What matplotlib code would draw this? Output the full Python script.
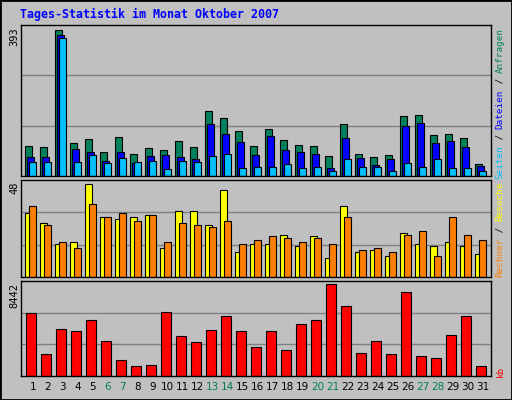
import numpy as np
import matplotlib.pyplot as plt
from matplotlib.patches import Rectangle

# Tagesdaten Oktober 2007 (aus dem Bild geschaetzt)
days = np.arange(1, 32)
weekend = [6, 7, 13, 14, 20, 21, 27, 28]
hits = [80, 78, 393, 88, 99, 64, 104, 59, 75, 70, 94, 78, 174, 155, 121, 80,
        126, 96, 83, 80, 54, 139, 59, 51, 56, 161, 163, 110, 113, 102, 32]
files = [51, 51, 378, 72, 64, 40, 64, 35, 54, 56, 51, 46, 139, 113, 91, 56,
         107, 70, 64, 59, 21, 102, 48, 29, 46, 134, 142, 88, 94, 78, 27]
pages = [38, 38, 370, 38, 56, 35, 48, 38, 40, 19, 40, 38, 54, 59, 21, 24,
         24, 32, 21, 24, 13, 46, 24, 24, 13, 35, 24, 46, 21, 21, 13]
visits = [33, 28, 17, 18, 48, 31, 30, 31, 32, 15, 34, 34, 27, 45, 13, 17,
          17, 22, 16, 21, 10, 37, 13, 14, 11, 23, 17, 16, 18, 16, 12]
sites = [37, 27, 18, 15, 38, 31, 33, 29, 32, 18, 28, 27, 26, 29, 17, 19,
         21, 20, 18, 20, 17, 31, 14, 15, 13, 22, 24, 11, 31, 22, 19]
kbytes = [5741, 2057, 4359, 4175, 5096, 3254, 1504, 952, 1044, 5833, 3715,
          3162, 4267, 5465, 4175, 2702, 4175, 2425, 4728, 5096, 8442, 6386,
          2149, 3254, 2057, 7675, 1873, 1689, 3807, 5465, 952]

GRAY = '#c0c0c0'
C_HITS, C_FILES, C_PAGES = '#00805c', '#0000ff', '#00c0ff'
C_VISITS, C_SITES, C_KB = '#ffff00', '#ff8000', '#ff0000'
MONO = 'DejaVu Sans Mono'

fig = plt.figure(figsize=(5.12, 4.0), dpi=100, facecolor=GRAY)
fig.patches.append(Rectangle((0, 0), 1, 1, transform=fig.transFigure,
                             fill=False, edgecolor='black', lw=2))

left, width = 20.7 / 512, (491 - 20.7) / 512
def panel(top_px, bot_px):
    ax = fig.add_axes([left, 1 - bot_px / 400, width, (bot_px - top_px) / 400])
    ax.set_facecolor(GRAY)
    ax.set_xlim(0.2, 31.55)
    ax.set_xticks([])
    ax.set_yticks([])
    for s in ax.spines.values():
        s.set_color('black')
        s.set_linewidth(1)
    return ax

def grid(ax, top):
    ax.set_ylim(0, top)
    for f in (1 / 3, 2 / 3):
        ax.axhline(top * f, color='#808080', lw=1, zorder=0)

x0 = days - 0.5
kw = dict(align='edge', edgecolor='black', linewidth=0.8, zorder=2)

ax1 = panel(25, 176)
grid(ax1, max(hits) * 1.031)
ax1.bar(x0, hits, 0.47, color=C_HITS, **kw)
ax1.bar(x0 + 0.133, files, 0.47, color=C_FILES, **kw)
ax1.bar(x0 + 0.267, pages, 0.47, color=C_PAGES, **kw)

ax2 = panel(180, 277)
grid(ax2, max(visits) * 1.047)
ax2.bar(x0, visits, 0.47, color=C_VISITS, **kw)
ax2.bar(x0 + 0.267, sites, 0.47, color=C_SITES, **kw)

ax3 = panel(281, 376)
grid(ax3, max(kbytes) * 1.033)
ax3.bar(x0 + 0.067, kbytes, 0.67, color=C_KB, **kw)

for d in days:
    ax3.text(d, -0.12, str(d), transform=ax3.get_xaxis_transform(),
             ha='center', va='center', fontsize=7.5,
             color=C_HITS if d in weekend else 'black')

fig.text(20 / 512, 1 - 14 / 400, 'Tages-Statistik im Monat Oktober 2007',
         family=MONO, weight='bold', fontsize=8.4, color='#0000ff', va='center')

for txt, ytop in [(str(max(hits)), 27), (str(max(visits)), 181), (str(max(kbytes)), 283)]:
    fig.text(14 / 512, 1 - ytop / 400, txt, family=MONO, fontsize=7.5,
             rotation=90, ha='center', va='top')

def right_label(parts, ybot):
    y = ybot
    for txt, col in parts:
        fig.text(500 / 512, 1 - y / 400, txt, family=MONO, fontsize=6.7,
                 color=col, rotation=90, ha='center', va='bottom')
        y -= 5.6 * len(txt)

right_label([('Seiten', C_PAGES), (' / ', 'black'), ('Dateien', C_FILES),
             (' / ', 'black'), ('Anfragen', C_HITS)], 179)
right_label([('Rechner', C_SITES), (' / ', 'black'), ('Besuche', C_VISITS)], 277)
right_label([('kb', C_KB)], 377)

plt.savefig('out.png', dpi=100, facecolor=GRAY)
